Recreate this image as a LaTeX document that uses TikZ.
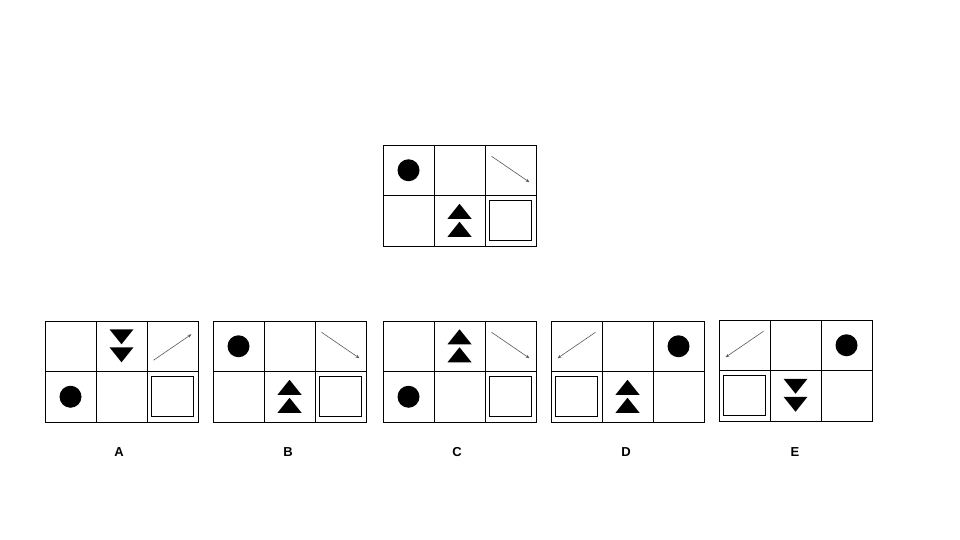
\documentclass[tikz,border=0pt]{standalone}
\usepackage{fontspec}
\setmainfont{Liberation Sans}
\usetikzlibrary{arrows.meta}
\tikzset{
  x=1pt,y=-1pt,
  gridline/.style={line width=0.9pt},
  arrline/.style={gray!70!black,line width=0.6pt,-{Stealth[length=4pt,width=3pt]}},
  optlabel/.style={font=\bfseries\fontsize{13}{15}\selectfont},
  pics/circ/.style={code={\fill (0,0) circle (11);}},
  pics/tup/.style={code={
    \fill (-12,-2) -- (12,-2) -- (0,-17) -- cycle;
    \fill (-12,16) -- (12,16) -- (0,1) -- cycle;}},
  pics/tdown/.style={code={
    \fill (-12,-17) -- (12,-17) -- (0,-2) -- cycle;
    \fill (-12,1) -- (12,1) -- (0,16) -- cycle;}},
  pics/sq/.style={code={\draw[line width=0.9pt] (-21,-20) rectangle (21,20);}},
  pics/arrdr/.style={code={\draw[arrline] (-19,-14) -- (19,12);}},
  pics/arrur/.style={code={\draw[arrline] (-19,14) -- (19,-12);}},
  pics/arrdl/.style={code={\draw[arrline] (19,-14) -- (-19,12);}},
}
% one grid: origin, then cell/row/content list
\newcommand{\qgrid}[3]{%
  \begin{scope}[shift={(#1,#2)}]
    \draw[gridline] (0,0) rectangle (153,101);
    \draw[gridline] (51,0) -- (51,101) (102,0) -- (102,101) (0,50.5) -- (153,50.5);
    \foreach \c/\r/\k in {#3}
      \pic at ({25.5+51*\c},{25.25+50.5*\r}) {\k};
  \end{scope}}
\begin{document}
\begin{tikzpicture}
  \useasboundingbox (0,0) rectangle (960,540);
  % question
  \qgrid{383}{145}{0/0/circ,1/1/tup,2/1/sq,2/0/arrdr}
  % options
  \qgrid{45}{321}{1/0/tdown,0/1/circ,2/1/sq,2/0/arrur}
  \qgrid{213}{321}{0/0/circ,1/1/tup,2/1/sq,2/0/arrdr}
  \qgrid{383}{321}{1/0/tup,0/1/circ,2/1/sq,2/0/arrdr}
  \qgrid{551}{321}{2/0/circ,1/1/tup,0/1/sq,0/0/arrdl}
  \qgrid{719}{320}{2/0/circ,1/1/tdown,0/1/sq,0/0/arrdl}
  \foreach \n/\lx in {A/119,B/288,C/457,D/626,E/795}
    \node[optlabel] (lab\n) at (\lx,452) {\n};
\end{tikzpicture}
\end{document}
